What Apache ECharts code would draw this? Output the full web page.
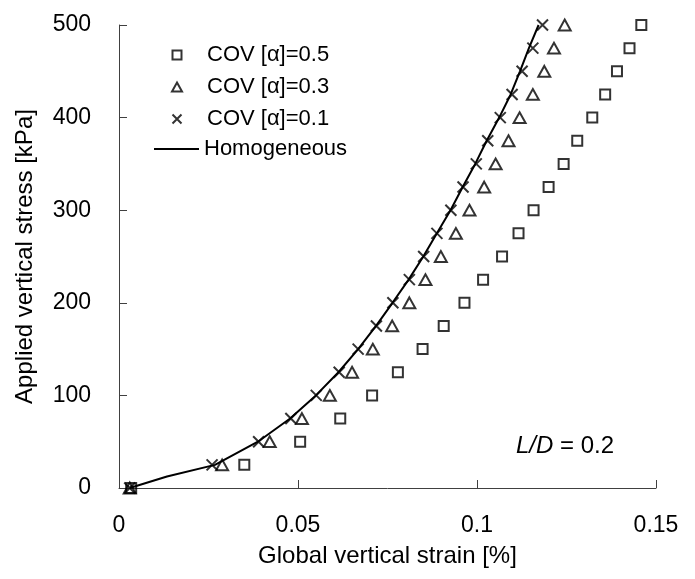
<!DOCTYPE html>
<html>
<head>
<meta charset="utf-8">
<script src="https://cdn.jsdelivr.net/npm/echarts@6/dist/echarts.min.js"></script>
<style>
  html, body { margin: 0; padding: 0; background: #fff; }
  #chart { width: 695px; height: 579px; }
</style>
</head>
<body>
<div id="chart"></div>
<script>
// applied vertical stress levels [kPa]
var stress = [0, 25, 50, 75, 100, 125, 150, 175, 200, 225, 250, 275, 300, 325, 350, 375, 400, 425, 450, 475, 500];

// global vertical strain [%]
var strainCov05 = [0.0034, 0.0350, 0.0506, 0.0618, 0.0707, 0.0779, 0.0848, 0.0907, 0.0965, 0.1017, 0.1070, 0.1116, 0.1158, 0.1200, 0.1242, 0.1280, 0.1322, 0.1358, 0.1391, 0.1426, 0.1459];
var strainCov03 = [0.0030, 0.0288, 0.0421, 0.0511, 0.0589, 0.0651, 0.0709, 0.0763, 0.0811, 0.0856, 0.0899, 0.0941, 0.0979, 0.1020, 0.1052, 0.1088, 0.1119, 0.1156, 0.1188, 0.1215, 0.1245];
var strainCov01 = [0.0030, 0.0260, 0.0390, 0.0480, 0.0551, 0.0615, 0.0668, 0.0719, 0.0765, 0.0811, 0.0851, 0.0888, 0.0927, 0.0961, 0.0998, 0.1030, 0.1065, 0.1098, 0.1126, 0.1156, 0.1183];

// homogeneous curve
var homoStress = [0, 12.5, 25, 50, 75, 100, 125, 150, 175, 200, 225, 250, 275, 300, 325, 350, 375, 400, 425, 450, 475, 500];
var homoStrain = [0.0030, 0.0134, 0.0268, 0.0388, 0.0478, 0.0550, 0.0613, 0.0668, 0.0718, 0.0764, 0.0809, 0.0850, 0.0888, 0.0926, 0.0960, 0.0995, 0.1027, 0.1062, 0.1094, 0.1120, 0.1145, 0.1172];

var seriesNames = ['COV [\u03b1]=0.5', 'COV [\u03b1]=0.3', 'COV [\u03b1]=0.1', 'Homogeneous'];

function pairs(xs, ys) {
  return xs.map(function (x, i) { return [x, ys[i]]; });
}

var font = '"Liberation Sans", Arial, sans-serif';
// path symbols keep their aspect in the legend too
var squarePath = 'path://M0,0L10,0L10,10L0,10Z';
var trianglePath = 'path://M5,0L10,9L0,9Z';
var crossPath = 'path://M0,0L10,10M10,0L0,10';
var markerStyle = { color: 'transparent', borderColor: '#000', borderWidth: 2 };
var legendText = { fontSize: 22, fontFamily: font, color: '#000' };

var chart = echarts.init(document.getElementById('chart'));

var option = {
  backgroundColor: '#fff',
  animation: false,
  textStyle: { fontFamily: font, color: '#000' },
  grid: { left: 119, right: 39, top: 25, bottom: 91 },
  legend: [
    {
      data: seriesNames.slice(0, 3),
      orient: 'vertical',
      left: 166,
      top: 39,
      itemWidth: 50,
      itemHeight: 9,
      itemGap: 10,
      itemStyle: { color: 'transparent', borderColor: '#000', borderWidth: 2 },
      textStyle: legendText
    },
    {
      data: [{ name: seriesNames[3], icon: 'rect' }],
      orient: 'vertical',
      left: 149,
      top: 133,
      itemWidth: 45,
      itemHeight: 2,
      textStyle: legendText
    }
  ],
  xAxis: {
    type: 'value',
    min: 0,
    max: 0.15,
    interval: 0.05,
    name: 'Global vertical strain [%]',
    nameLocation: 'middle',
    nameGap: 56,
    nameTextStyle: { fontSize: 24, fontFamily: font, color: '#000' },
    axisLine: { show: true, lineStyle: { color: '#404040', width: 1 } },
    axisTick: { show: true, inside: true, length: 8, lineStyle: { color: '#404040' } },
    axisLabel: {
      fontSize: 23, color: '#000', margin: 26,
      formatter: function (v) { return v === 0 ? '0' : String(+v.toFixed(2)); }
    },
    splitLine: { show: false }
  },
  yAxis: {
    type: 'value',
    min: 0,
    max: 500,
    interval: 100,
    name: 'Applied vertical stress [kPa]',
    nameLocation: 'middle',
    nameGap: 82,
    nameTextStyle: { fontSize: 24, fontFamily: font, color: '#000' },
    axisLine: { show: true, lineStyle: { color: '#404040', width: 1 } },
    axisTick: { show: true, inside: true, length: 8, lineStyle: { color: '#404040' } },
    axisLabel: { fontSize: 23, color: '#000', margin: 28 },
    splitLine: { show: false }
  },
  graphic: [
    {
      type: 'text',
      left: 516,
      top: 434,
      style: {
        text: '{i|L/D} = 0.2',
        font: '24px ' + font,
        fill: '#000',
        rich: {
          i: { fontStyle: 'italic', fontSize: 24, fontFamily: font, fill: '#000' }
        }
      }
    }
  ],
  series: [
    {
      name: seriesNames[0],
      type: 'scatter',
      symbol: squarePath,
      symbolSize: 10,
      symbolKeepAspect: true,
      itemStyle: markerStyle,
      data: pairs(strainCov05, stress),
      z: 3
    },
    {
      name: seriesNames[1],
      type: 'scatter',
      symbol: trianglePath,
      symbolSize: 12,
      symbolKeepAspect: true,
      itemStyle: markerStyle,
      data: pairs(strainCov03, stress),
      z: 3
    },
    {
      name: seriesNames[2],
      type: 'scatter',
      symbol: crossPath,
      symbolSize: 11,
      symbolKeepAspect: true,
      itemStyle: markerStyle,
      data: pairs(strainCov01, stress),
      z: 4
    },
    {
      name: seriesNames[3],
      type: 'line',
      symbol: 'none',
      smooth: false,
      lineStyle: { color: '#000', width: 2 },
      itemStyle: { color: '#000' },
      data: pairs(homoStrain, homoStress),
      z: 2
    }
  ]
};

chart.setOption(option);
</script>
</body>
</html>
